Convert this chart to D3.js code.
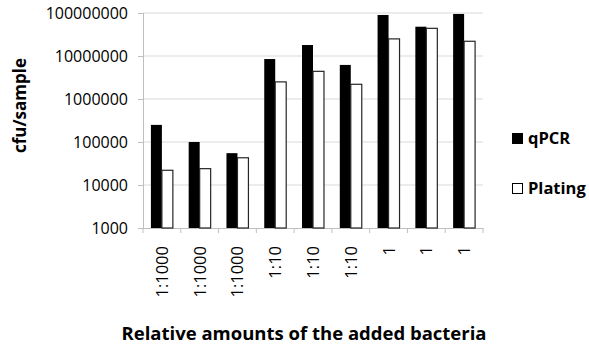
<!DOCTYPE html>
<html>
<head>
<meta charset="utf-8">
<script src="https://cdn.jsdelivr.net/npm/d3@7"></script>
<style>
  body { margin: 0; background: #fff; }
  text { font-family: "Open Sans", "Liberation Sans", sans-serif; }
</style>
</head>
<body>
<div id="chart"></div>
<script>
const categories = ["1:1000", "1:1000", "1:1000", "1:10", "1:10", "1:10", "1", "1", "1"];
const qpcr = [250000, 100000, 55000, 8500000, 18000000, 6200000, 90000000, 48000000, 95000000];
const plating = [22000, 24000, 43000, 2500000, 4400000, 2200000, 25000000, 44000000, 22000000];
const yTicks = [1000, 10000, 100000, 1000000, 10000000, 100000000];
const seriesNames = ["qPCR", "Plating"];

const width = 589, height = 350;
const margin = {top: 13, right: 106, bottom: 122, left: 143};

const svg = d3.select("#chart").append("svg")
    .attr("width", width)
    .attr("height", height);

const x = d3.scaleBand()
    .domain(d3.range(categories.length))
    .range([margin.left, width - margin.right]);

const inner = d3.scaleBand()
    .domain(seriesNames)
    .range([0, x.bandwidth()])
    .paddingOuter(0.72);

const y = d3.scaleLog()
    .domain([1000, 100000000])
    .range([height - margin.bottom, margin.top]);

// gridlines
svg.append("g")
    .selectAll("line")
    .data(yTicks.slice(1))
    .join("line")
    .attr("x1", margin.left)
    .attr("x2", width - margin.right)
    .attr("y1", d => y(d))
    .attr("y2", d => y(d))
    .attr("stroke", "#d9d9d9")
    .attr("stroke-width", 1);

// y axis
const yAxis = svg.append("g")
    .attr("transform", `translate(${margin.left},0)`)
    .call(d3.axisLeft(y).tickValues(yTicks).tickFormat(d3.format("d")).tickSize(5).tickPadding(10));
yAxis.select(".domain").attr("stroke", "#bfbfbf");
yAxis.selectAll(".tick line").attr("stroke", "#bfbfbf");
yAxis.selectAll(".tick text")
    .attr("font-size", 16)
    .attr("font-family", "Open Sans, sans-serif")
    .attr("fill", "#000");

// x axis
const xAxis = svg.append("g")
    .attr("transform", `translate(0,${height - margin.bottom})`)
    .call(d3.axisBottom(x).tickFormat(i => categories[i]).tickSize(0).tickPadding(0));
xAxis.select(".domain").attr("stroke", "#bfbfbf");
xAxis.selectAll(".tick text")
    .attr("font-size", 16.5)
    .attr("font-family", "Open Sans, sans-serif")
    .attr("fill", "#000")
    .attr("text-anchor", "end")
    .attr("transform", "translate(6,18) rotate(-90)")
    .attr("dy", 0)
    .attr("y", 0);

// category separator ticks
svg.append("g")
    .selectAll("line")
    .data(d3.range(categories.length + 1))
    .join("line")
    .attr("x1", i => margin.left + i * x.step())
    .attr("x2", i => margin.left + i * x.step())
    .attr("y1", height - margin.bottom)
    .attr("y2", height - margin.bottom + 5)
    .attr("stroke", "#bfbfbf");

// bars
const groups = svg.append("g")
    .selectAll("g")
    .data(categories.map((c, i) => ({i, qPCR: qpcr[i], Plating: plating[i]})))
    .join("g")
    .attr("transform", d => `translate(${x(d.i)},0)`);

groups.selectAll("rect")
    .data(d => seriesNames.map(s => ({s, v: d[s]})))
    .join("rect")
    .attr("x", d => inner(d.s))
    .attr("width", inner.bandwidth())
    .attr("y", d => y(d.v))
    .attr("height", d => y(1000) - y(d.v))
    .attr("fill", d => d.s === "qPCR" ? "#000" : "#fff")
    .attr("stroke", d => d.s === "qPCR" ? "none" : "#262626")
    .attr("stroke-width", 1.2);

// legend
const legend = svg.append("g")
    .selectAll("g")
    .data(seriesNames)
    .join("g")
    .attr("transform", (d, i) => `translate(512,${133 + i * 50})`);

legend.append("rect")
    .attr("x", 0.5)
    .attr("y", 0.5)
    .attr("width", 10)
    .attr("height", 10)
    .attr("fill", d => d === "qPCR" ? "#000" : "#fff")
    .attr("stroke", "#000")
    .attr("stroke-width", 1);

legend.append("text")
    .attr("x", 16)
    .attr("y", 11)
    .attr("font-size", 16.5)
    .attr("font-weight", "bold")
    .text(d => d);

// axis titles
svg.append("text")
    .attr("transform", `translate(26,${(margin.top + height - margin.bottom) / 2 - 15}) rotate(-90)`)
    .attr("text-anchor", "middle")
    .attr("font-size", 17)
    .attr("font-weight", "bold")
    .text("cfu/sample");

svg.append("text")
    .attr("x", 304)
    .attr("y", 340)
    .attr("text-anchor", "middle")
    .attr("font-size", 18.5)
    .attr("font-weight", "bold")
    .text("Relative amounts of the added bacteria");
</script>
</body>
</html>
